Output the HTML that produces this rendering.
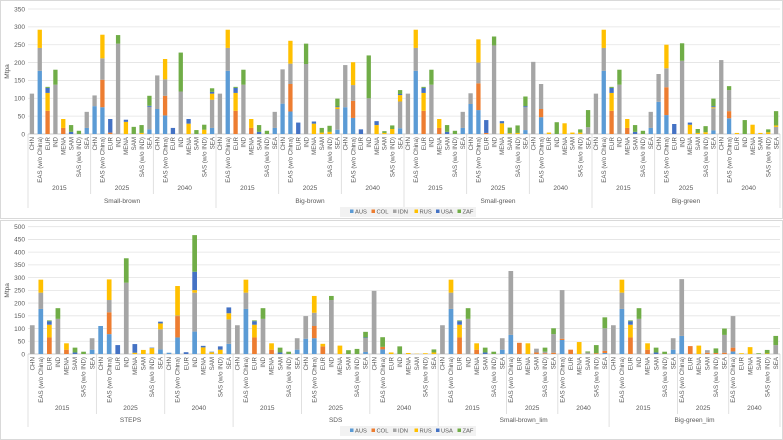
<!DOCTYPE html>
<html><head><meta charset="utf-8">
<style>
body{margin:0;background:#fff;font-family:"Liberation Sans",sans-serif;}
svg{display:block}
text{font-family:"Liberation Sans",sans-serif;fill:#595959}
</style></head>
<body>
<svg id="chart" width="783" height="440" viewBox="0 0 783 440"></svg>
<script>
const seriesNames = ["AUS","COL","IDN","RUS","USA","ZAF"];
const seriesColors = ["#5b9bd5","#ed7d31","#a5a5a5","#ffc000","#4472c4","#70ad47"];
const R8 = ["CHN","EAS (w/o China)","EUR","IND","MENA","SAM","SAS (w/o IND)","SEA"];
const R6 = ["EAS (w/o China)","EUR","MENA","SAM","SAS (w/o IND)","SEA"];
const years = ["2015","2025","2040"];
const topGroups = ["Small-brown","Big-brown","Small-green","Big-green"];
const topBlockRegions = [R8,R8,R8, R8,R8,R8, R8,R8,R8, R8,R8,R8];
const botGroups = ["STEPS","SDS","Small-brown_lim","Big-green_lim"];
const botBlockRegions = [R8,R8,R8, R8,R8,R8, R8,R6,R6, R8,R6,R6];
const topTicks = [0,50,100,150,200,250,300,350];
const botTicks = [0,50,100,150,200,250,300,350,400,450,500];

const topAUS = [0,177,0,0,0,0,0,17, 78,75,0,0,0,0,0,13, 70,52,0,0,0,0,0,17, 0,177,0,0,0,0,0,17, 85,63,0,0,0,0,0,12, 75,45,0,0,0,0,0,16, 0,177,0,0,0,0,0,17, 84,67,0,0,0,0,0,11, 0,47,0,0,0,0,0,0, 0,177,0,0,0,0,0,17, 90,53,0,0,0,0,0,10, 0,44,0,0,0,0,0,0];
const topCOL = [0,0,65,0,17,0,0,0, 0,77,4,0,0,0,0,0, 0,55,0,0,0,0,0,0, 0,0,65,0,17,0,0,0, 0,77,0,0,0,0,0,0, 0,48,0,0,0,0,0,0, 0,0,65,0,17,0,0,0, 0,75,3,0,0,0,0,0, 0,23,0,0,0,0,0,0, 0,0,65,0,17,0,0,0, 0,78,0,0,0,0,0,0, 0,20,0,0,0,0,0,0];
const topIDN = [113,64,0,138,0,0,0,45, 30,60,0,253,0,0,0,63, 94,46,0,119,0,0,0,79, 113,64,0,138,0,0,0,45, 96,57,0,196,0,0,0,58, 118,44,0,100,0,0,0,75, 113,64,0,138,0,0,0,45, 30,58,0,248,0,0,0,64, 202,70,0,0,0,0,0,19, 113,64,0,138,0,0,0,45, 78,53,0,205,0,0,0,62, 207,59,0,0,0,0,0,20];
const topRUS = [0,51,50,0,25,0,0,0, 0,66,0,0,34,0,3,0, 0,57,0,0,29,0,12,17, 0,51,50,0,25,0,0,0, 0,64,0,0,29,4,6,5, 0,64,0,0,25,3,14,18, 0,51,50,0,25,0,0,0, 0,65,0,0,30,2,3,0, 0,0,4,0,30,4,4,0, 0,51,50,0,25,0,0,0, 0,66,0,0,26,3,5,3, 0,0,3,0,26,3,5,4];
const topUSA = [0,0,14,0,0,6,0,0, 0,0,38,0,6,0,0,3, 0,0,17,0,13,0,0,5, 0,0,14,0,0,6,0,0, 0,0,32,0,6,0,0,2, 0,0,13,0,11,0,0,3, 0,0,14,0,0,6,0,0, 0,0,36,0,6,0,0,3, 0,0,0,0,0,0,0,0, 0,0,14,0,0,6,0,0, 0,0,28,0,6,0,0,3, 0,0,0,0,0,0,0,0];
const topZAF = [0,0,3,42,0,19,9,0, 0,0,0,24,0,20,22,28, 0,0,0,109,0,11,14,10, 0,0,3,42,0,19,9,0, 0,0,0,57,0,13,17,22, 0,0,0,120,0,5,10,11, 0,0,3,42,0,19,9,0, 0,0,0,25,0,16,21,27, 0,0,0,33,0,0,9,48, 0,0,3,42,0,19,9,0, 0,0,0,49,0,11,17,21, 0,11,0,39,0,0,8,40];

const botAUS = [0,177,0,0,0,0,0,17, 110,78,0,0,0,0,0,18, 5,65,0,88,0,0,0,40, 0,177,0,0,0,0,0,17, 60,62,0,0,0,0,0,8, 0,18,0,0,0,0,0,0, 0,177,0,0,0,0,0,17, 75,0,0,0,0,0, 55,0,0,0,0,4, 0,177,0,0,0,0,0,17, 71,0,0,0,0,0, 10,0,0,0,0,0];
const botCOL = [0,0,65,0,17,0,0,0, 0,86,0,0,0,0,0,0, 0,84,0,0,0,0,0,0, 0,0,65,0,17,0,0,0, 0,48,30,0,0,0,0,0, 0,10,0,0,0,0,0,0, 0,0,65,0,17,0,0,0, 0,44,0,6,3,5, 5,17,0,0,3,8, 0,0,65,0,17,0,0,0, 0,31,0,5,4,5, 15,0,0,0,0,0];
const botIDN = [113,64,0,138,0,0,0,45, 0,48,0,280,0,0,0,79, 0,2,0,153,0,0,0,96, 113,64,0,138,0,0,0,45, 89,52,0,212,0,0,0,55, 248,0,0,0,0,0,0,0, 113,64,0,138,0,0,0,45, 251,0,0,15,6,73, 191,0,0,6,0,89, 113,64,0,138,0,0,0,45, 223,0,0,10,0,70, 124,0,0,0,0,35];
const botRUS = [0,51,50,0,25,0,0,0, 0,81,0,0,5,16,23,23, 0,116,0,10,26,7,17,24, 0,51,50,0,25,0,0,0, 0,66,10,0,33,0,0,0, 0,0,6,0,4,1,3,6, 0,51,50,0,25,0,0,0, 0,0,42,0,0,0, 0,0,47,0,0,0, 0,51,50,0,25,0,0,0, 0,0,33,0,0,0, 0,3,27,0,2,0];
const botUSA = [0,0,14,0,0,6,0,0, 0,0,35,0,34,0,2,7, 0,0,7,72,6,2,13,23, 0,0,14,0,0,6,0,0, 0,0,0,0,0,0,0,2, 0,0,0,0,0,0,0,0, 0,0,14,0,0,6,0,0, 0,0,0,0,0,0, 0,0,0,0,0,0, 0,0,14,0,0,6,0,0, 0,0,0,0,0,0, 0,0,0,0,0,0];
const botZAF = [0,0,3,42,0,19,9,0, 0,0,0,96,0,0,0,0, 0,0,0,144,0,0,0,0, 0,0,3,42,0,19,9,0, 0,0,0,16,0,15,20,22, 0,38,0,30,0,0,0,12, 0,0,3,42,0,19,9,0, 0,0,0,0,16,23, 0,0,0,4,32,43, 0,0,3,42,0,19,9,0, 0,0,0,0,18,25, 0,0,0,3,14,36];

const NS = "http://www.w3.org/2000/svg";
const svg = document.getElementById("chart");
function mk(tag, attrs, parent, txt){
  const e = document.createElementNS(NS, tag);
  for (const k in attrs) e.setAttribute(k, attrs[k]);
  if (txt !== undefined) e.textContent = txt;
  (parent || svg).appendChild(e);
  return e;
}

function drawPanel(cfg){
  const g = mk("g", {});
  
  
  const frame = mk("rect", {x:0.5, y:cfg.top+0.5, width:782, height:cfg.h-1, fill:"#fff", stroke:"#d9d9d9"}, g);
  
  
  const L = 28, Rr = 780;
  const y = v => cfg.y0 - v * (cfg.y0 - cfg.yTop) / cfg.max;
  // grid + ticks
  cfg.ticks.forEach(t => {
    const gl = mk("line", {x1:L, x2:Rr, y1:y(t), y2:y(t), stroke: t===0 ? "#bfbfbf" : "#e3e3e3", "stroke-width":0.8}, g);
    
    
    const tl = mk("text", {x:L-3, y:y(t)+2.3, "font-size":6.5, "text-anchor":"end"}, g, String(t));
    
    
  });
  const yt = mk("text", {x:0, y:0, "font-size":6.5, "text-anchor":"middle", transform:`translate(9,${(cfg.y0+cfg.yTop)/2}) rotate(-90)`}, g, "Mtpa");
  
  
  // categories
  const cats = [];
  cfg.blocks.forEach((regs, bi) => regs.forEach(r => cats.push({r, bi})));
  const n = cats.length, w = (Rr - L) / n, bw = w * 0.55;
  const series = cfg.series;
  cats.forEach((c, i) => {
    const cx = L + w * (i + 0.5);
    let acc = 0;
    series.forEach((arr, si) => {
      const v = arr[i];
      if (v > 0) {
        const b = mk("rect", {x:cx - bw/2, y:y(acc+v), width:bw, height:y(acc)-y(acc+v), fill:seriesColors[si]}, g);
        
        
      }
      acc += v;
    });
    const lab = mk("text", {x:0, y:0, "font-size":6.2, "text-anchor":"end", transform:`translate(${cx+2.2},${cfg.y0+3}) rotate(-90)`}, g, c.r);
    
    
  });
  // year & group separators/labels
  let start = 0;
  cfg.blocks.forEach((regs, bi) => {
    const x0 = L + w * start, x1 = L + w * (start + regs.length);
    const isGroupStart = bi % 3 === 0;
    const sep = mk("line", {x1:x0, x2:x0, y1:cfg.y0, y2: isGroupStart ? cfg.groupY+5 : cfg.yearY+4, stroke:"#d9d9d9", "stroke-width":0.8}, g);
    
    
    const yl = mk("text", {x:(x0+x1)/2, y:cfg.yearY, "font-size":6.5, "text-anchor":"middle"}, g, years[bi % 3]);
    
    
    if (bi % 3 === 2) {
      let gs = start - cfg.blocks[bi-1].length - cfg.blocks[bi-2].length;
      const gx0 = L + w * gs;
      const gl = mk("text", {x:(gx0+x1)/2, y:cfg.groupY, "font-size":6.5, "text-anchor":"middle"}, g, cfg.groups[Math.floor(bi/3)]);
      
      
    }
    start += regs.length;
  });
  const endSep = mk("line", {x1:Rr, x2:Rr, y1:cfg.y0, y2:cfg.groupY+5, stroke:"#d9d9d9", "stroke-width":0.8}, g);
  
  
  // legend
  const lg = mk("g", {}, g);
  
  
  mk("rect", {x:340, y:cfg.legY-6, width:136, height:10, fill:"#f2f2f2"}, lg);
  seriesNames.forEach((s, si) => {
    const ex = 350 + si * 21.5;
    const e = mk("g", {}, lg);
    
    
    mk("rect", {x:ex, y:cfg.legY-3.5, width:3.5, height:3.5, fill:seriesColors[si]}, e);
    mk("text", {x:ex+5, y:cfg.legY+0.5, "font-size":5.8}, e, s);
  });
}

drawPanel({name:"top-panel", top:0, h:219, y0:134, yTop:9, max:350, ticks:topTicks,
  blocks:topBlockRegions, groups:topGroups,
  series:[topAUS, topCOL, topIDN, topRUS, topUSA, topZAF],
  yearY:190, groupY:203, legY:213});
drawPanel({name:"bottom-panel", top:220, h:220, y0:354, yTop:226.7, max:500, ticks:botTicks,
  blocks:botBlockRegions, groups:botGroups,
  series:[botAUS, botCOL, botIDN, botRUS, botUSA, botZAF],
  yearY:410, groupY:422, legY:432});
</script>
</body></html>
